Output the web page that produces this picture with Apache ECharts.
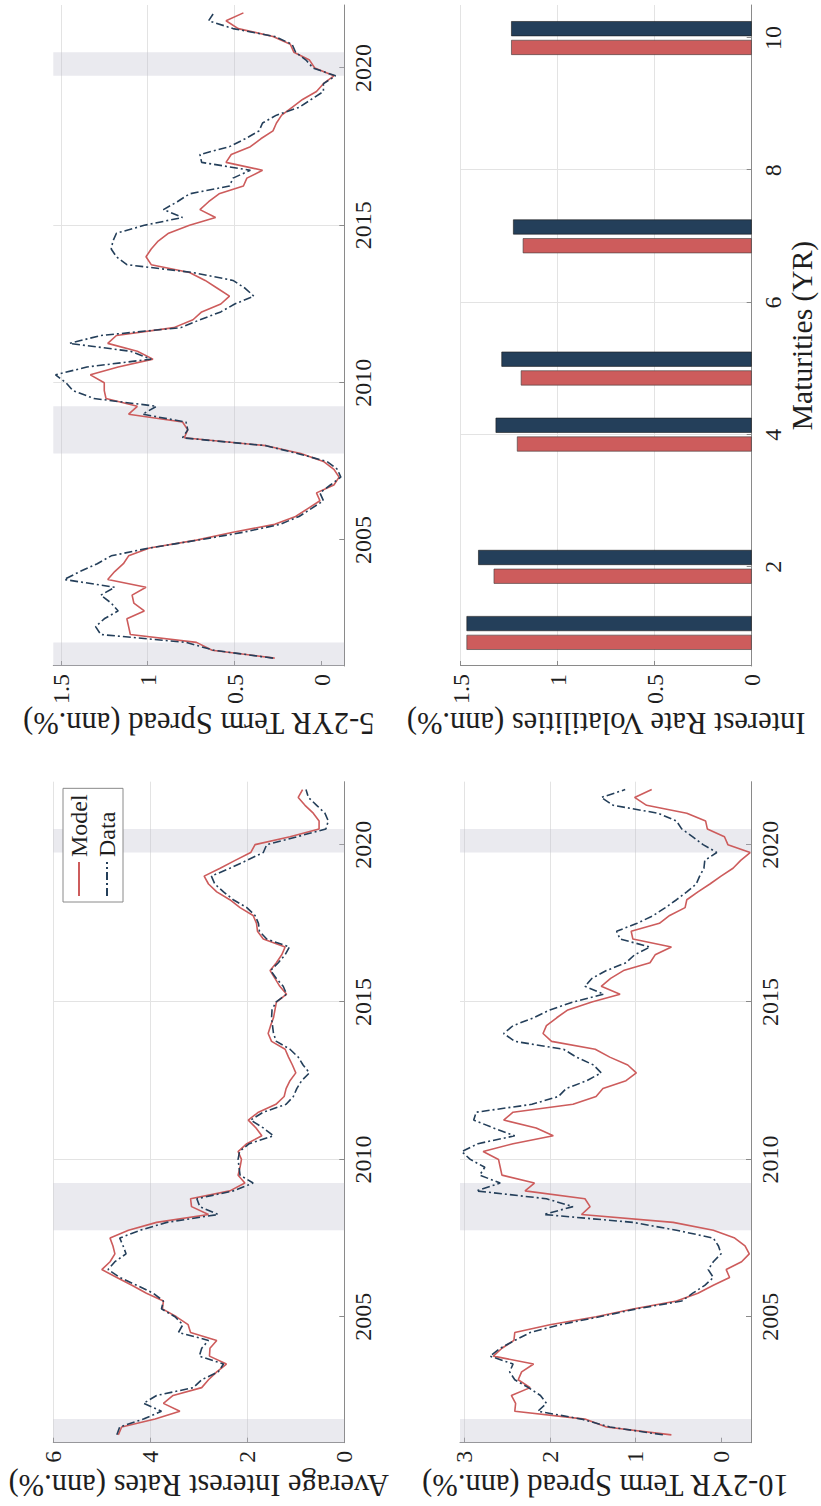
<!DOCTYPE html>
<html>
<head>
<meta charset="utf-8">
<script src="https://cdn.jsdelivr.net/npm/echarts@6/dist/echarts.min.js"></script>
<style>
  html, body { margin: 0; padding: 0; overflow: hidden; background: #fff; width: 821px; height: 1506px; }
  #chart { position: absolute; left: 0; top: 0; width: 1506px; height: 821px;
           transform-origin: 0 0; transform: translate(0px, 1506px) rotate(-90deg); }
</style>
</head>
<body>
<div id="chart"></div>
<script>
// Quarterly observation dates, 2001Q2 ... 2021Q4 (83 quarters)
const quarters = [];
for (let k = 0; k < 83; k++) quarters.push(2001.25 + 0.25 * k);

// Average interest rates (ann.%)
const avgModel = [
  4.66, 4.59, 3.90,
  3.39, 3.73, 3.53, 2.94,
  2.80, 2.63, 2.43, 2.78,
  2.77, 2.63, 3.17, 3.22,
  3.46, 3.75, 3.73, 4.08,
  4.38, 4.69, 5.00, 4.83,
  4.73, 4.77, 4.83, 4.45,
  3.87, 2.80, 3.15, 3.17,
  2.36, 2.05, 2.19, 2.15,
  2.12, 2.19, 2.01, 1.70,
  1.82, 1.98, 1.77, 1.41,
  1.24, 1.20, 1.12, 1.00,
  1.07, 1.15, 1.22, 1.50,
  1.57, 1.52, 1.46, 1.43,
  1.40, 1.19, 1.33, 1.43,
  1.53, 1.40, 1.29, 1.22,
  1.67, 1.79, 1.81, 1.88,
  2.15, 2.36, 2.63, 2.80,
  2.89, 2.56, 2.25, 1.93,
  1.84, 1.12, 0.52, 0.52,
  0.64, 0.81, 0.95, 0.86
];
const avgData = [
  4.69, 4.63, 4.14,
  3.77, 4.14, 3.87, 3.11,
  2.94, 2.60, 2.49, 2.99,
  2.94, 2.80, 3.42, 3.33,
  3.49, 3.77, 3.73, 3.94,
  4.28, 4.63, 4.87, 4.73,
  4.50, 4.56, 4.63, 4.21,
  3.66, 2.60, 2.98, 3.04,
  2.29, 1.88, 2.15, 2.17,
  2.19, 2.16, 1.96, 1.46,
  1.67, 1.93, 1.67, 1.20,
  1.05, 0.98, 0.88, 0.72,
  0.85, 0.95, 1.12, 1.40,
  1.46, 1.48, 1.50, 1.49,
  1.41, 1.19, 1.26, 1.40,
  1.52, 1.36, 1.22, 1.13,
  1.60, 1.75, 1.77, 1.84,
  2.01, 2.29, 2.49, 2.67,
  2.74, 2.36, 2.01, 1.67,
  1.60, 0.98, 0.38, 0.33,
  0.40, 0.57, 0.74, 0.79
];

// 5-2YR term spread (ann.%)
const s52Model = [
  0.27, 0.63, 0.72,
  1.10, 1.11, 1.12, 1.02,
  1.08, 1.09, 1.01, 1.23,
  1.19, 1.14, 1.11, 0.99,
  0.72, 0.51, 0.27, 0.15,
  0.08, 0.01, 0.03, -0.07,
  -0.10, -0.07, -0.01, 0.12,
  0.32, 0.79, 0.77, 0.80,
  1.11, 1.06, 1.24, 1.25,
  1.25, 1.33, 1.17, 0.97,
  1.06, 1.23, 1.18, 0.85,
  0.74, 0.69, 0.58, 0.53,
  0.60, 0.67, 0.76, 0.98,
  1.01, 0.98, 0.94, 0.88,
  0.76, 0.61, 0.70, 0.65,
  0.59, 0.45, 0.43, 0.34,
  0.55, 0.52, 0.41, 0.35,
  0.28, 0.26, 0.23, 0.17,
  0.11, 0.03, -0.01, -0.07,
  0.04, 0.07, 0.16, 0.18,
  0.28, 0.48, 0.55, 0.45
];
const s52Data = [
  0.28, 0.62, 0.78,
  1.27, 1.30, 1.25, 1.17,
  1.21, 1.27, 1.19, 1.48,
  1.39, 1.29, 1.21, 0.99,
  0.71, 0.45, 0.24, 0.13,
  0.06, -0.01, 0.01, -0.05,
  -0.11, -0.09, -0.03, 0.14,
  0.32, 0.80, 0.77, 0.78,
  1.03, 0.95, 1.31, 1.43,
  1.47, 1.53, 1.35, 0.98,
  1.10, 1.45, 1.27, 0.81,
  0.70, 0.58, 0.50, 0.39,
  0.44, 0.51, 0.74, 1.12,
  1.18, 1.21, 1.20, 1.18,
  1.02, 0.80, 0.91, 0.83,
  0.76, 0.53, 0.51, 0.41,
  0.69, 0.70, 0.53, 0.44,
  0.36, 0.34, 0.26, 0.13,
  0.06, -0.01, -0.01, -0.08,
  0.05, 0.09, 0.15, 0.17,
  0.27, 0.51, 0.65, 0.62
];

// 10-2YR term spread (ann.%)
const s102Model = [
  0.58, 1.34, 1.59,
  2.41, 2.40, 2.45, 2.23,
  2.37, 2.33, 2.19, 2.66,
  2.56, 2.42, 2.41, 2.00,
  1.46, 1.03, 0.52, 0.27,
  0.09, -0.10, -0.06, -0.24,
  -0.33, -0.28, -0.16, 0.09,
  0.56, 1.63, 1.53, 1.59,
  2.29, 2.18, 2.56, 2.58,
  2.60, 2.78, 2.43, 1.96,
  2.16, 2.54, 2.43, 1.73,
  1.46, 1.38, 1.11, 0.99,
  1.09, 1.30, 1.47, 1.98,
  2.08, 2.04, 1.92, 1.79,
  1.51, 1.18, 1.40, 1.29,
  1.14, 0.83, 0.77, 0.58,
  1.03, 1.05, 0.72, 0.60,
  0.42, 0.40, 0.27, 0.13,
  0.00, -0.14, -0.23, -0.34,
  -0.08, -0.04, 0.16, 0.18,
  0.40, 0.87, 1.01, 0.81
];
const s102Data = [
  0.68, 1.30, 1.63,
  2.14, 2.04, 2.11, 2.25,
  2.41, 2.47, 2.43, 2.70,
  2.58, 2.41, 2.23, 1.88,
  1.42, 0.99, 0.46, 0.33,
  0.19, 0.09, 0.15, 0.09,
  0.00, 0.03, 0.09, 0.52,
  1.03, 2.07, 1.73, 2.04,
  2.86, 2.58, 2.82, 2.76,
  2.93, 3.03, 2.84, 2.41,
  2.66, 2.89, 2.86, 2.21,
  1.90, 1.81, 1.57, 1.40,
  1.49, 1.69, 1.84, 2.41,
  2.54, 2.43, 2.19, 2.00,
  1.73, 1.37, 1.59, 1.51,
  1.34, 1.11, 1.01, 0.83,
  1.18, 1.22, 0.98, 0.79,
  0.65, 0.52, 0.40, 0.29,
  0.25, 0.20, 0.19, 0.05,
  0.21, 0.33, 0.46, 0.52,
  0.74, 1.26, 1.40, 1.12
];

// Interest rate volatilities by maturity (ann.%)
const maturities = [1, 2, 4, 5, 7, 10];
const volModel = [1.47, 1.33, 1.21, 1.19, 1.18, 1.24];
const volData  = [1.47, 1.41, 1.32, 1.29, 1.23, 1.24];

// Tick labels and recession periods
const yearTicks = [2005, 2010, 2015, 2020];
const maturityTicks = [2, 4, 6, 8, 10];
const spread52Ticks = [0, 0.5, 1, 1.5];
const spread102Ticks = [0, 1, 2, 3];
const recessions = [[2001.0, 2001.75], [2007.75, 2009.25], [2019.75, 2020.5]];

// ---------------------------------------------------------------
const FONT = "'Liberation Serif', 'DejaVu Serif', serif";
const RED = '#cd5c5c';
const BLUE = '#243f5a';
const AXIS = '#8a8a8a';
const GRID = '#e3e3e3';
const TXT = '#1e1e1e';
const NAME_SIZE = 30.5;
const TICK_SIZE = 24;

const pairs = vals => vals.map((v, i) => [quarters[i], v]);
const plain = v => String(v);

function timeAxis(gi) {
  return {
    type: 'value', gridIndex: gi, min: 2001, max: 2022,
    axisLine: { show: true, onZero: false, lineStyle: { color: AXIS, width: 1 } },
    axisTick: { show: true, inside: true, length: 5, customValues: yearTicks, lineStyle: { color: AXIS } },
    axisLabel: { customValues: yearTicks, formatter: plain, fontFamily: FONT, fontSize: TICK_SIZE, color: TXT, margin: 7 },
    splitLine: { show: true, showMinLine: false, showMaxLine: false, lineStyle: { color: GRID, width: 1 } }
  };
}
function valueAxis(gi, opts) {
  const ax = {
    type: 'value', gridIndex: gi, min: opts.min, max: opts.max,
    name: opts.name, nameLocation: 'middle', nameGap: opts.nameGap, nameRotate: 90,
    nameTextStyle: { fontFamily: FONT, fontSize: NAME_SIZE, color: TXT },
    axisLine: { show: true, onZero: false, lineStyle: { color: AXIS, width: 1 } },
    axisTick: { show: true, inside: true, length: 5, lineStyle: { color: AXIS } },
    axisLabel: { formatter: plain, fontFamily: FONT, fontSize: TICK_SIZE, color: TXT, margin: 8 },
    splitLine: { show: true, showMinLine: false, showMaxLine: true, lineStyle: { color: GRID, width: 1 } }
  };
  if (opts.interval) ax.interval = opts.interval;
  if (opts.ticks) { ax.axisTick.customValues = opts.ticks; ax.axisLabel.customValues = opts.ticks; }
  return ax;
}
function recessionSeries(xi) {
  return {
    type: 'line', xAxisIndex: xi, yAxisIndex: xi, data: [], z: 1, silent: true,
    markArea: {
      silent: true,
      itemStyle: { color: 'rgba(190,190,206,0.33)' },
      data: recessions.map(r => [{ xAxis: r[0] }, { xAxis: r[1] }])
    }
  };
}
function lineSeries(xi, name, vals, color, dash) {
  return {
    type: 'line', name: name, xAxisIndex: xi, yAxisIndex: xi, data: pairs(vals),
    showSymbol: false, symbol: 'none', z: 3,
    lineStyle: { color: color, width: 1.6, type: dash ? [8, 3, 2, 3] : 'solid' },
    itemStyle: { color: color }
  };
}

const option = {
  animation: false,
  backgroundColor: '#ffffff',
  grid: [
    { left: 63.3, top: 53.3, width: 661, height: 291, containLabel: false, outerBoundsMode: 'none' },
    { left: 840, top: 53.3, width: 661, height: 291, containLabel: false, outerBoundsMode: 'none' },
    { left: 63.3, top: 460, width: 661, height: 291, containLabel: false, outerBoundsMode: 'none' },
    { left: 840, top: 460.7, width: 661, height: 291, containLabel: false, outerBoundsMode: 'none' }
  ],
  legend: {
    data: ['Model', 'Data'], orient: 'vertical', left: 604, top: 63,
    itemWidth: 34, itemHeight: 14, itemGap: 4, padding: [4, 6, 4, 5],
    backgroundColor: '#ffffff', borderColor: '#8a8a8a', borderWidth: 1,
    itemStyle: { opacity: 0, borderWidth: 0 },
    textStyle: { fontFamily: FONT, fontSize: 24, color: TXT }
  },
  xAxis: [
    timeAxis(0), timeAxis(1), timeAxis(2),
    {
      type: 'value', gridIndex: 3, min: 0.5, max: 10.5,
      name: 'Maturities (YR)', nameLocation: 'middle', nameGap: 35,
      nameTextStyle: { fontFamily: FONT, fontSize: 29.5, color: TXT },
      axisLine: { show: true, onZero: false, lineStyle: { color: AXIS, width: 1 } },
      axisTick: { show: true, inside: true, length: 5, customValues: maturityTicks, lineStyle: { color: AXIS } },
      axisLabel: { customValues: maturityTicks, formatter: plain, fontFamily: FONT, fontSize: TICK_SIZE, color: TXT, margin: 9 },
      splitLine: { show: true, showMinLine: false, showMaxLine: false, lineStyle: { color: GRID, width: 1 } }
    }
  ],
  yAxis: [
    valueAxis(0, { min: 0, max: 6, interval: 2, name: 'Average Interest Rates (ann.%)', nameGap: 27 }),
    valueAxis(1, { min: -0.13, max: 1.543, ticks: spread52Ticks, name: '5-2YR Term Spread (ann.%)', nameGap: 41 }),
    valueAxis(2, { min: -0.35, max: 3.05, ticks: spread102Ticks, name: '10-2YR Term Spread (ann.%)', nameGap: 27 }),
    valueAxis(3, { min: 0, max: 1.5, interval: 0.5, name: 'Interest Rate Volatilities (ann.%)', nameGap: 41 })
  ],
  series: [
    recessionSeries(0),
    lineSeries(0, 'Model', avgModel, RED, false),
    lineSeries(0, 'Data', avgData, BLUE, true),
    recessionSeries(1),
    lineSeries(1, 'Model', s52Model, RED, false),
    lineSeries(1, 'Data', s52Data, BLUE, true),
    recessionSeries(2),
    lineSeries(2, 'Model', s102Model, RED, false),
    lineSeries(2, 'Data', s102Data, BLUE, true),
    {
      type: 'bar', name: 'Model', xAxisIndex: 3, yAxisIndex: 3,
      data: maturities.map((m, i) => [m, volModel[i]]),
      barWidth: 15, barGap: '25%',
      itemStyle: { color: RED, borderColor: '#3a3a3a', borderWidth: 0.6 }
    },
    {
      type: 'bar', name: 'Data', xAxisIndex: 3, yAxisIndex: 3,
      data: maturities.map((m, i) => [m, volData[i]]),
      barWidth: 15, barGap: '25%',
      itemStyle: { color: BLUE, borderColor: '#1a1a1a', borderWidth: 0.6 }
    }
  ]
};

const chart = echarts.init(document.getElementById('chart'), null, { renderer: 'svg', width: 1506, height: 821 });
chart.setOption(option);
</script>
</body>
</html>
